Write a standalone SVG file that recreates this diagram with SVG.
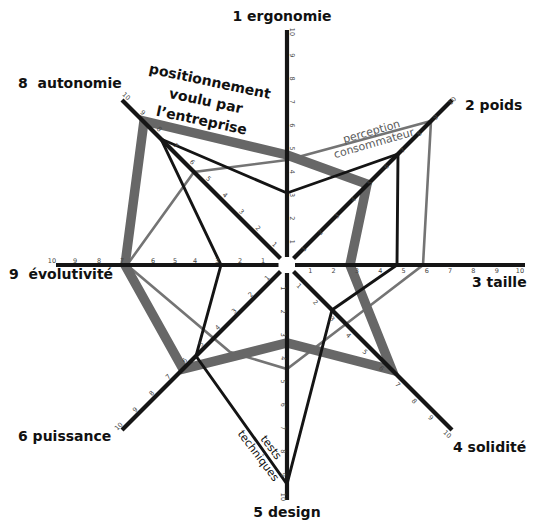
<svg xmlns="http://www.w3.org/2000/svg" width="536" height="524" viewBox="0 0 536 524">
  <style>
    .axis{stroke:#151515;stroke-width:4.2;fill:none}
    .goal{fill:none;stroke:#676767;stroke-width:9.5;stroke-linejoin:miter}
    .perc{fill:none;stroke:#747474;stroke-width:2.6;stroke-linejoin:miter}
    .tests{fill:none;stroke:#141414;stroke-width:2.9;stroke-linejoin:miter}
    .lbl{font-family:"DejaVu Sans",Verdana,sans-serif;font-weight:bold;font-size:14px;fill:#111}
    .tk{font-family:"DejaVu Sans",sans-serif;font-size:6.5px;fill:#444;text-anchor:middle}
    .note{font-family:"DejaVu Sans",Verdana,sans-serif;font-size:11px;text-anchor:middle}
  </style>
  <rect width="536" height="524" fill="#fff"/>

  <!-- data series, drawn under the axes -->
  <g id="series">
    <polygon id="perception" class="perc" points="287,160 431,121 423,265 346,324 287,369 230,352 127,265 194,172"/>
    <polygon id="positionnement" class="goal" points="287,155 367,184 350,265 392,370 287,343 183,369 125,265 144,121"/>
    <polygon id="tests-techniques" class="tests" points="287,193 398,154 397,265 332,310 287,484 196,356 221,265 161,139"/>
  </g>

  <!-- axes, centre at (287,265), 23.3 px per unit -->
  <g id="ax1">
    <line class="axis" x1="287" y1="257" x2="287" y2="30"/>
    <text class="lbl" x="282" y="21" text-anchor="middle">1 ergonomie</text>
    <g class="tk">
      <text transform="translate(289.5,241.7) rotate(90)">1</text>
      <text transform="translate(289.5,218.4) rotate(90)">2</text>
      <text transform="translate(289.5,195.1) rotate(90)">3</text>
      <text transform="translate(289.5,171.8) rotate(90)">4</text>
      <text transform="translate(289.5,148.5) rotate(90)">5</text>
      <text transform="translate(289.5,125.2) rotate(90)">6</text>
      <text transform="translate(289.5,101.9) rotate(90)">7</text>
      <text transform="translate(289.5,78.6) rotate(90)">8</text>
      <text transform="translate(289.5,55.3) rotate(90)">9</text>
      <text transform="translate(289.5,32) rotate(90)">10</text>
    </g>
  </g>

  <g id="ax2">
    <line class="axis" x1="293.5" y1="258.5" x2="452" y2="100"/>
    <text class="lbl" x="465" y="110">2 poids</text>
    <g class="tk">
      <text transform="translate(305.5,250.5) rotate(-45)">1</text>
      <text transform="translate(322,234) rotate(-45)">2</text>
      <text transform="translate(338.4,217.6) rotate(-45)">3</text>
      <text transform="translate(354.9,201.1) rotate(-45)">4</text>
      <text transform="translate(371.4,184.6) rotate(-45)">5</text>
      <text transform="translate(387.9,168.1) rotate(-45)">6</text>
      <text transform="translate(404.3,151.7) rotate(-45)">7</text>
      <text transform="translate(420.8,135.2) rotate(-45)">8</text>
      <text transform="translate(437.3,118.7) rotate(-45)">9</text>
      <text transform="translate(453.8,102.2) rotate(-45)">10</text>
    </g>
  </g>

  <g id="ax3">
    <line class="axis" x1="295" y1="265" x2="525" y2="265"/>
    <text class="lbl" x="472" y="287">3 taille</text>
    <g class="tk">
      <text x="310.3" y="273">1</text>
      <text x="333.6" y="273">2</text>
      <text x="356.9" y="273">3</text>
      <text x="380.2" y="273">4</text>
      <text x="403.5" y="273">5</text>
      <text x="426.8" y="273">6</text>
      <text x="450.1" y="273">7</text>
      <text x="473.4" y="273">8</text>
      <text x="496.7" y="273">9</text>
      <text x="520" y="273">10</text>
    </g>
  </g>

  <g id="ax4">
    <line class="axis" x1="293.5" y1="271.5" x2="452" y2="430"/>
    <text class="lbl" x="453" y="452">4 solidité</text>
    <g class="tk">
      <text transform="translate(297.5,287.5) rotate(45)">1</text>
      <text transform="translate(314,304) rotate(45)">2</text>
      <text transform="translate(330.4,320.4) rotate(45)">3</text>
      <text transform="translate(346.9,336.9) rotate(45)">4</text>
      <text transform="translate(363.4,353.4) rotate(45)">5</text>
      <text transform="translate(379.9,369.9) rotate(45)">6</text>
      <text transform="translate(396.3,386.3) rotate(45)">7</text>
      <text transform="translate(412.8,402.8) rotate(45)">8</text>
      <text transform="translate(429.3,419.3) rotate(45)">9</text>
      <text transform="translate(445.8,435.8) rotate(45)">10</text>
    </g>
  </g>

  <g id="ax5">
    <line class="axis" x1="287" y1="273" x2="287" y2="500"/>
    <text class="lbl" x="287" y="516.5" text-anchor="middle">5 design</text>
    <g class="tk">
      <text transform="translate(281,288.3) rotate(90)">1</text>
      <text transform="translate(281,311.6) rotate(90)">2</text>
      <text transform="translate(281,334.9) rotate(90)">3</text>
      <text transform="translate(281,358.2) rotate(90)">4</text>
      <text transform="translate(281,381.5) rotate(90)">5</text>
      <text transform="translate(281,404.8) rotate(90)">6</text>
      <text transform="translate(281,428.1) rotate(90)">7</text>
      <text transform="translate(281,451.4) rotate(90)">8</text>
      <text transform="translate(281,474.7) rotate(90)">9</text>
      <text transform="translate(281,497) rotate(90)">10</text>
    </g>
  </g>

  <g id="ax6">
    <line class="axis" x1="280.5" y1="271.5" x2="122" y2="430"/>
    <text class="lbl" x="18" y="441">6 puissance</text>
    <g class="tk">
      <text transform="translate(268.6,279.6) rotate(-45)">1</text>
      <text transform="translate(252.1,296.1) rotate(-45)">2</text>
      <text transform="translate(235.6,312.5) rotate(-45)">3</text>
      <text transform="translate(219.1,329) rotate(-45)">4</text>
      <text transform="translate(202.7,345.5) rotate(-45)">5</text>
      <text transform="translate(186.2,362) rotate(-45)">6</text>
      <text transform="translate(169.7,378.4) rotate(-45)">7</text>
      <text transform="translate(153.2,394.9) rotate(-45)">8</text>
      <text transform="translate(136.8,411.4) rotate(-45)">9</text>
      <text transform="translate(120.3,427.9) rotate(-45)">10</text>
    </g>
  </g>

  <g id="ax9">
    <line class="axis" x1="278.5" y1="265" x2="56" y2="265"/>
    <text class="lbl" x="9" y="278.5">9&#160; évolutivité</text>
    <g class="tk">
      <text x="263" y="262.5">1</text>
      <text x="240" y="262.5">2</text>
      <text x="217" y="262.5">3</text>
      <text x="195" y="262.5">4</text>
      <text x="175" y="262.5">5</text>
      <text x="153" y="262.5">6</text>
      <text x="122" y="262.5">7</text>
      <text x="99" y="262.5">8</text>
      <text x="75" y="262.5">9</text>
      <text x="52" y="262.5">10</text>
    </g>
  </g>

  <g id="ax8">
    <line class="axis" x1="280.5" y1="258.5" x2="122" y2="100"/>
    <text class="lbl" x="18" y="88">8&#160; autonomie</text>
    <g class="tk">
      <text transform="translate(272.9,246) rotate(45)">1</text>
      <text transform="translate(256.5,229.6) rotate(45)">2</text>
      <text transform="translate(240,213.1) rotate(45)">3</text>
      <text transform="translate(223.5,196.6) rotate(45)">4</text>
      <text transform="translate(207,180.1) rotate(45)">5</text>
      <text transform="translate(190.6,163.7) rotate(45)">6</text>
      <text transform="translate(174.1,147.2) rotate(45)">7</text>
      <text transform="translate(157.6,130.7) rotate(45)">8</text>
      <text transform="translate(141.1,114.2) rotate(45)">9</text>
      <text transform="translate(124.7,97.8) rotate(45)">10</text>
    </g>
  </g>

  <!-- series captions -->
  <g id="legend-positionnement" transform="translate(209,86) rotate(12)">
    <text class="lbl" x="0" y="0" text-anchor="middle">positionnement</text>
    <text class="lbl" x="0" y="20" text-anchor="middle">voulu par</text>
    <text class="lbl" x="0" y="40" text-anchor="middle">l’entreprise</text>
  </g>
  <g id="legend-perception" fill="#5a5a5a">
    <text class="note" transform="translate(372.5,135) rotate(-16)">perception</text>
    <text class="note" transform="translate(375,146.7) rotate(-16)">consommateur</text>
  </g>
  <g id="legend-tests" fill="#111">
    <text class="note" transform="translate(268.2,449.6) rotate(53)">tests</text>
    <text class="note" transform="translate(255.5,457.9) rotate(53)">techniques</text>
  </g>
</svg>
